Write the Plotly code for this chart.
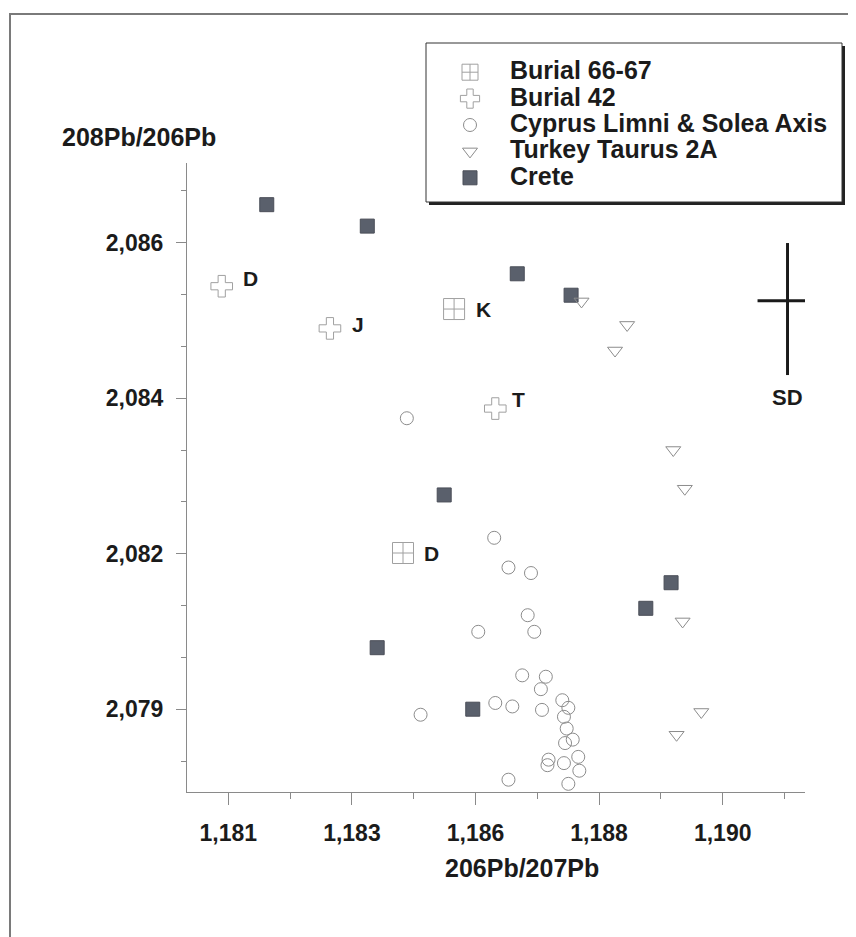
import plotly.graph_objects as go

# ---------------- data ----------------
burial66_x = [1.18511, 1.18418]
burial66_y = [2.08504, 2.08151]
burial66_labels = ["K", "D"]

burial42_x = [1.18088, 1.18285, 1.18586]
burial42_y = [2.08537, 2.08476, 2.08360]
burial42_labels = ["D", "J", "T"]

cyprus_x = [1.18425, 1.18584, 1.18610, 1.18651, 1.18645, 1.18555, 1.18657, 1.18635,
            1.18678, 1.18669, 1.18708, 1.18719, 1.18586, 1.18617, 1.18671, 1.18450,
            1.18711, 1.18716, 1.18727, 1.18713, 1.18737, 1.18683, 1.18681, 1.18711,
            1.18739, 1.18610, 1.18719]
cyprus_y = [2.08346, 2.08173, 2.08130, 2.08122, 2.08061, 2.08037, 2.08037, 2.07974,
            2.07972, 2.07954, 2.07938, 2.07927, 2.07934, 2.07929, 2.07924, 2.07917,
            2.07914, 2.07897, 2.07881, 2.07876, 2.07856, 2.07852, 2.07844, 2.07847,
            2.07836, 2.07823, 2.07817]

turkey_x = [1.18743, 1.18826, 1.18804, 1.18910, 1.18931, 1.18927, 1.18961, 1.18916]
turkey_y = [2.08515, 2.08481, 2.08444, 2.08300, 2.08244, 2.08052, 2.07921, 2.07888]

crete_x = [1.18170, 1.18353, 1.18626, 1.18724, 1.18493, 1.18906, 1.18860, 1.18371, 1.18545]
crete_y = [2.08655, 2.08624, 2.08555, 2.08524, 2.08235, 2.08108, 2.08071, 2.08014, 2.07925]

sd_x = [1.19118]
sd_y = [2.08516]
sd_err_x = [0.000546]
sd_err_y_up = [0.000835]
sd_err_y_down = [0.001075]
sd_label = "SD"

x_tickvals = [1.18100, 1.18325, 1.18550, 1.18775, 1.19000]
x_ticktext = ["1,181", "1,183", "1,186", "1,188", "1,190"]
x_minorvals = [1.182125, 1.184375, 1.186625, 1.188875, 1.191125]
y_tickvals = [2.08600, 2.08375, 2.08150, 2.07925]
y_ticktext = ["2,086", "2,084", "2,082", "2,079"]
y_minorvals = [2.08675, 2.08525, 2.08450, 2.08300, 2.08225, 2.08075, 2.08000, 2.07850]

x_range = [1.180248, 1.191498]
y_range = [2.078052, 2.087153]

x_title = "206Pb/207Pb"
y_title = "208Pb/206Pb"
names = ["Burial 66-67", "Burial 42", "Cyprus Limni & Solea Axis", "Turkey Taurus 2A", "Crete"]

# ---------------- style ----------------
FONT = "Liberation Sans, Arial, Helvetica, sans-serif"
TXT = "#1b1b1b"
AX = "#8a8a8a"
OFF = 8                      # page body margin in the browser
W, H = 856 - OFF, 937 - OFF
PX0, PX1 = 187, 805          # plot area in screen pixels (x)
PY0, PY1 = 163, 792          # plot area in screen pixels (y)
PW, PH = PX1 - PX0, PY1 - PY0
L, T = PX0 - OFF, PY0 - OFF
R, B = W - L - PW, H - T - PH


def px2paper_x(px):
    return (px - PX0) / PW


def px2paper_y(py):
    return (PY1 - py) / PH


def lname(s):
    return f'<span style="font-size:25px">{s}</span>'


fig = go.Figure()

fig.add_trace(go.Scatter(
    x=cyprus_x, y=cyprus_y, mode="markers", name=lname(names[2]), legendrank=3,
    marker=dict(symbol="circle-open", size=13, color="#8c8c8c", line=dict(width=1)),
))
fig.add_trace(go.Scatter(
    x=crete_x, y=crete_y, mode="markers", name=lname(names[4]), legendrank=5,
    marker=dict(symbol="square", size=14, color="#5a606c", line=dict(width=1, color="#4a4e58")),
))
fig.add_trace(go.Scatter(
    x=turkey_x, y=turkey_y, mode="markers", name=lname(names[3]), legendrank=4,
    marker=dict(symbol="triangle-down-open", size=13, color="#8c8c8c", line=dict(width=1)),
))
fig.add_trace(go.Scatter(
    x=burial66_x, y=burial66_y, mode="markers", name=lname(names[0]), legendrank=1,
    marker=dict(symbol="square-cross-open", size=21, color="#a0a0a0", line=dict(width=1)),
))
fig.add_trace(go.Scatter(
    x=burial42_x, y=burial42_y, mode="markers", name=lname(names[1]), legendrank=2,
    marker=dict(symbol="cross-open", size=18, color="#a0a0a0", line=dict(width=1)),
))
fig.add_trace(go.Scatter(
    x=sd_x, y=sd_y, mode="markers", showlegend=False, cliponaxis=False, hoverinfo="skip",
    marker=dict(size=1, opacity=0),
    error_x=dict(type="data", array=sd_err_x, symmetric=True, thickness=3, width=0, color="#1a1a1a"),
    error_y=dict(type="data", array=sd_err_y_up, arrayminus=sd_err_y_down, symmetric=False,
                 thickness=3, width=0, color="#1a1a1a"),
))

annotations = []
label_font = dict(family=FONT, size=21, color=TXT, weight="bold")
shifts42 = [(29, 8), (28, 4), (23, 9)]
for xv, yv, t, (dx, dy) in zip(burial42_x, burial42_y, burial42_labels, shifts42):
    annotations.append(dict(x=xv, y=yv, text=t, showarrow=False, xshift=dx, yshift=dy,
                            font=label_font, xanchor="center", yanchor="middle"))
shifts66 = [(29, 0), (28, 0)]
for xv, yv, t, (dx, dy) in zip(burial66_x, burial66_y, burial66_labels, shifts66):
    annotations.append(dict(x=xv, y=yv, text=t, showarrow=False, xshift=dx, yshift=dy,
                            font=label_font, xanchor="center", yanchor="middle"))
annotations.append(dict(x=sd_x[0], y=sd_y[0] - sd_err_y_down[0], text=sd_label, showarrow=False,
                        yshift=-22, font=dict(family=FONT, size=22, color=TXT, weight="bold"),
                        xanchor="center", yanchor="middle"))
annotations.append(dict(xref="paper", yref="paper", x=px2paper_x(60), y=px2paper_y(137),
                        text=y_title, showarrow=False, xanchor="left", yanchor="middle",
                        font=dict(family=FONT, size=25, color=TXT, weight="bold")))
annotations.append(dict(xref="paper", yref="paper", x=px2paper_x(522), y=px2paper_y(868),
                        text=x_title, showarrow=False, xanchor="center", yanchor="middle",
                        font=dict(family=FONT, size=25, color=TXT, weight="bold")))

shapes = [
    # outer page frame
    dict(type="rect", xref="paper", yref="paper", x0=px2paper_x(10), x1=px2paper_x(900),
         y0=px2paper_y(1000), y1=px2paper_y(14), line=dict(color="#7a7a7a", width=2),
         fillcolor="rgba(0,0,0,0)", layer="below"),
    # legend shadow + box
    dict(type="rect", xref="paper", yref="paper", x0=px2paper_x(429), x1=px2paper_x(845),
         y0=px2paper_y(205), y1=px2paper_y(46), line=dict(width=0), fillcolor="#222222",
         layer="above"),
    dict(type="rect", xref="paper", yref="paper", x0=px2paper_x(426), x1=px2paper_x(842),
         y0=px2paper_y(202), y1=px2paper_y(43), line=dict(width=1, color="#333333"),
         fillcolor="white", layer="above"),
]

tickfont = dict(family=FONT, size=23, color=TXT, weight="bold")

fig.update_layout(
    width=W, height=H, autosize=False,
    margin=dict(l=L, r=R, t=T, b=B, pad=0),
    paper_bgcolor="white", plot_bgcolor="white",
    showlegend=True,
    legend=dict(x=px2paper_x(430), y=px2paper_y(54), xanchor="left", yanchor="top",
                bgcolor="rgba(0,0,0,0)", borderwidth=0, itemwidth=70,
                font=dict(family=FONT, size=18, color=TXT, weight="bold"),
                traceorder="normal"),
    xaxis=dict(range=x_range, showgrid=False, zeroline=False, showline=True, linecolor=AX,
               linewidth=1, ticks="outside", ticklen=12, tickcolor=AX, tickwidth=1,
               tickmode="array", tickvals=x_tickvals, ticktext=x_ticktext,
               tickfont=tickfont, ticklabelstandoff=8,
               minor=dict(tickmode="array", tickvals=x_minorvals, ticks="outside",
                          ticklen=6, tickcolor=AX, tickwidth=1)),
    xaxis2=dict(range=x_range, overlaying="x", anchor="y", side="bottom", showgrid=False,
                zeroline=False, showline=False, ticks="inside", ticklen=12, tickcolor=AX,
                tickwidth=1, tickmode="array", tickvals=x_tickvals, showticklabels=False),
    yaxis=dict(range=y_range, showgrid=False, zeroline=False, showline=True, linecolor=AX,
               linewidth=1, ticks="outside", ticklen=10, tickcolor=AX, tickwidth=1,
               tickmode="array", tickvals=y_tickvals, ticktext=y_ticktext,
               tickfont=tickfont, ticklabelstandoff=8,
               minor=dict(tickmode="array", tickvals=y_minorvals, ticks="outside",
                          ticklen=5, tickcolor=AX, tickwidth=1)),
    yaxis2=dict(range=y_range, overlaying="y", anchor="x", side="left", showgrid=False,
                zeroline=False, showline=False, ticks="inside", ticklen=10, tickcolor=AX,
                tickwidth=1, tickmode="array", tickvals=y_tickvals, showticklabels=False),
    annotations=annotations,
    shapes=shapes,
)

fig.write_html("out.html")
